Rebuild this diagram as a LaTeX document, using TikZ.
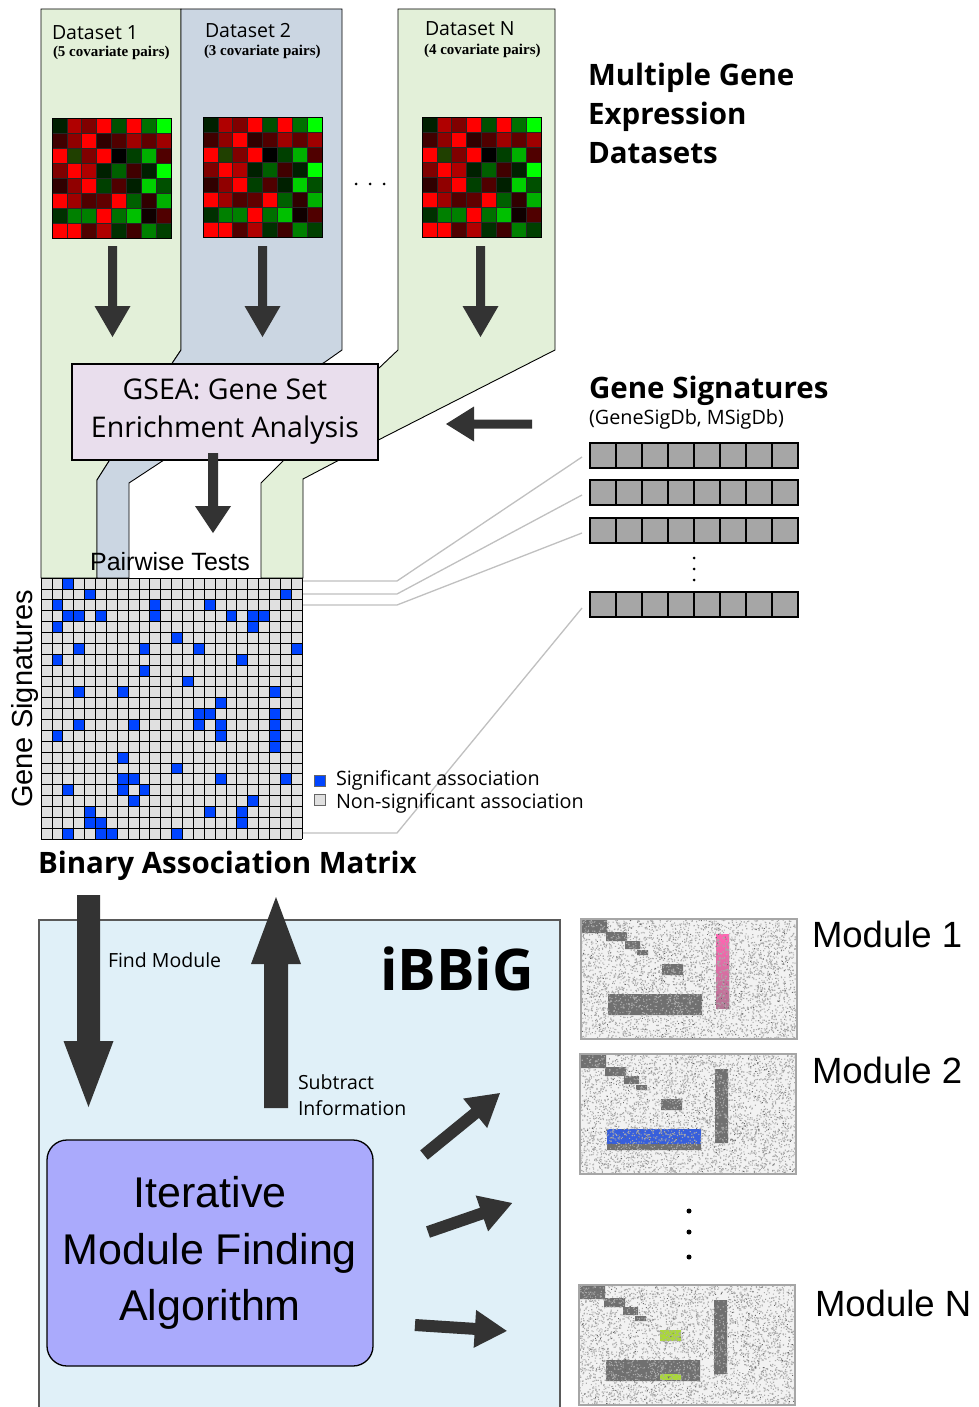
\documentclass[tikz,border=0pt]{standalone}
\usepackage{fontspec}
\setmainfont{Liberation Sans}
\newfontfamily\myr{Open Sans}
\newfontfamily\srf{Liberation Serif}
\definecolor{pgreen}{RGB}{227,240,217}
\definecolor{pblue}{RGB}{203,214,226}
\definecolor{gseac}{RGB}{233,222,237}
\definecolor{matgray}{RGB}{224,224,224}
\definecolor{sigblue}{RGB}{0,68,255}
\definecolor{arr}{RGB}{51,51,51}
\definecolor{sigbar}{RGB}{166,166,166}
\definecolor{ibbgc}{RGB}{224,240,248}
\definecolor{algoc}{RGB}{170,170,252}
\definecolor{connc}{RGB}{192,192,192}
\definecolor{modbg}{RGB}{242,242,242}
\definecolor{modblk}{RGB}{112,112,112}
\definecolor{moddot}{RGB}{170,170,170}
\definecolor{modpink}{RGB}{255,102,178}
\definecolor{modblue}{RGB}{55,95,220}
\definecolor{modgreen}{RGB}{170,215,60}
\tikzset{
 txt/.style={inner sep=0pt, outer sep=0pt, anchor=base west},
 myr/.style={font=\myr\fontsize{#1}{#1}\selectfont},
 myrb/.style={font=\myr\bfseries\fontsize{#1}{#1}\selectfont},
 ari/.style={font=\fontsize{#1}{#1}\selectfont},
 srfb/.style={font=\srf\bfseries\fontsize{#1}{#1}\selectfont},
 panel/.style={draw=black, line width=0.9pt},
 conn/.style={draw=connc, line width=1.3pt},
}
% block arrow: x y angle length halfshaft halfhead headlength
\newcommand\blkarrow[7]{\fill[arr,shift={(#1,#2)},rotate=#3] (0,#5) -- ({#4-#7},#5) -- ({#4-#7},#6) -- (#4,0) -- ({#4-#7},-#6) -- ({#4-#7},-#5) -- (0,-#5) -- cycle;}
\newcommand\heatmap[2]{%
\begin{scope}[shift={(#1,#2)}]
\foreach \hr/\hg [count=\hi from 0] in {0/32,176/0,128/0,255/0,0/80,255/0,0/112,0/255,
 64/0,144/0,255/0,48/0,80/0,160/0,96/0,160/0,
 255/0,32/64,128/0,255/0,0/0,0/64,0/176,80/0,
 128/0,255/0,176/0,0/32,0/96,64/0,0/32,0/255,
 48/0,144/0,255/0,0/64,80/0,0/32,0/208,0/80,
 255/0,160/0,80/0,96/0,255/0,0/96,48/0,0/176,
 0/48,0/128,0/128,255/0,0/112,0/192,16/0,80/0,
 255/0,255/0,80/0,176/0,0/48,64/0,0/128,0/64}{%
 \pgfmathtruncatemacro\hcx{mod(\hi,8)}%
 \pgfmathtruncatemacro\hcy{floor(\hi/8)}%
 \fill[fill={rgb,255:red,\hr;green,\hg;blue,0}] (\hcx*14.9,\hcy*14.9) rectangle ++(14.9,14.9);}
\foreach \k in {1,...,7}{\draw[black!85,line width=0.8pt] (\k*14.9,0) -- (\k*14.9,119.2) (0,\k*14.9) -- (119.2,\k*14.9);}
\draw[black,line width=1pt] (0,0) rectangle (119.2,119.2);
\end{scope}}
\newcommand\modimg[4]{%
\begin{scope}[shift={(#1,#2)}]
\pgfmathsetseed{#3}
\fill[modbg] (0,0) rectangle (216,120);
\fill[modblk] (1,1) rectangle (26,14) (25,13) rectangle (46,22) (44,22) rectangle (59,30) (56,31) rectangle (67,36) (81,45) rectangle (102,56) (27,75) rectangle (121,96) (135,15) rectangle (148,89);
#4
\foreach \j in {1,...,10}{\fill[moddot] \foreach \k in {1,...,380}{({rnd*215},{rnd*119}) rectangle ++(1.1,1.1)};}
\fill[black!60] \foreach \k in {1,...,400}{({rnd*215},{rnd*119}) rectangle ++(0.9,0.9)};
\draw[black!35, line width=1.3pt] (0,0) rectangle (216,120);
\end{scope}}
\begin{document}
\begin{tikzpicture}[x=1pt,y=-1pt]
\useasboundingbox (0,0) rectangle (979,1407);
\fill[white] (0,0) rectangle (979,1407);
% dataset panels
\draw[panel, fill=pgreen] (41,9) -- (181,9) -- (181,350) -- (173,362) -- (111,458) -- (97,480) -- (97,578) -- (41,578) -- cycle;
\draw[panel, fill=pblue] (181,9) -- (342,9) -- (342,350) -- (325,362) -- (167,458) -- (129,483) -- (129,578) -- (97,578) -- (97,480) -- (111,458) -- (173,362) -- (181,350) -- cycle;
\draw[panel, fill=pgreen] (398,9) -- (555,9) -- (555,350) -- (343,458) -- (303,479) -- (303,578) -- (261,578) -- (261,483) -- (286,458) -- (378,369) -- (398,350) -- cycle;
% dataset labels
\node[txt, myr=19.5] (d1) at (52,40) {Dataset 1};
\node[txt, srfb=15] (c1) at (53,57) {(5 covariate pairs)};
\node[txt, myr=19.5] (d2) at (205,38) {Dataset 2};
\node[txt, srfb=15] (c2) at (204,56) {(3 covariate pairs)};
\node[txt, myr=19.5] (dn) at (425,36) {Dataset N};
\node[txt, srfb=15] (cn) at (424,55) {(4 covariate pairs)};
% heatmaps
\heatmap{52}{119}
\heatmap{203}{118}
\heatmap{422}{118}
\foreach \xx in {356,370,384}{\fill[black] (\xx,184) circle (1.5);}
% dataset arrows
\blkarrow{112.5}{246}{-90}{91}{4.5}{18}{31}
\blkarrow{262.5}{246}{-90}{91}{4.5}{18}{31}
\blkarrow{480.5}{246}{-90}{91}{4.5}{18}{31}
% GSEA box
\node[draw, line width=1.3pt, fill=gseac, minimum width=306, minimum height=96, inner sep=0pt, align=center, font=\myr\fontsize{28.5}{38}\selectfont] (gsea) at (225,412) {GSEA: Gene Set\\Enrichment Analysis};
\blkarrow{213}{453}{-90}{80}{5}{18}{27}
\blkarrow{532}{424}{180}{86}{4.5}{17.5}{28}
% right titles
\node[txt, myrb=29.5] (t1) at (588,86) {Multiple Gene};
\node[txt, myrb=29.5] (t2) at (588,125) {Expression};
\node[txt, myrb=29.5] (t3) at (588,164) {Datasets};
\node[txt, myrb=29.5] (gs) at (589,398) {Gene Signatures};
\node[txt, myr=19.8] (gsdb) at (589,424) {(GeneSigDb, MSigDb)};
% signature bars
\foreach \yy in {443,480,518,592}{\foreach \k in {0,...,7}{\draw[fill=sigbar, draw=black, line width=1.5pt] (590+\k*26,\yy) rectangle ++(26,25);}}
\foreach \yy in {558,569,580}{\fill[black] (694,\yy) circle (1.5);}
% connector lines
\coordinate (s1) at (582,457);
\coordinate (s2) at (582,495);
\coordinate (s3) at (582,533);
\coordinate (s4) at (582,608);
\coordinate (r1) at (303,581);
\coordinate (r2) at (303,594);
\coordinate (r3) at (303,605);
\coordinate (r4) at (303,833);
\draw[conn] (s1) -- (397,581) -- (r1);
\draw[conn] (s2) -- (397,594) -- (r2);
\draw[conn] (s3) -- (397,605) -- (r3);
\draw[conn] (s4) -- (397,833) -- (r4);
% pairwise tests
\node[inner sep=0pt, anchor=base, ari=25] (pw) at (170,570) {Pairwise Tests};
% matrix
\begin{scope}[shift={(41,578)}]
\fill[matgray] (0,0) rectangle (261,261);
\foreach \row/\cols in {0/{2},1/{4,22},2/{1,10,15},3/{2,3,5,10,17,19,20},4/{1,19},5/{12},6/{3,9,14,23},7/{1,18},8/{9},9/{13},10/{3,7,21},11/{16},12/{14,15,21},13/{3,8,14,16,21},14/{1,16,21},15/{21},16/{7},17/{12},18/{7,8,16,22},19/{2,7,9},20/{8,19},21/{4,15,18},22/{4,5,18},23/{2,5,6,12}}{\foreach \c in \cols {\fill[sigblue] (\c*10.875,\row*10.875) rectangle ++(10.875,10.875);}}
\foreach \k in {0,...,24}{\draw[black, line width=0.7pt] (\k*10.875,0) -- (\k*10.875,261) (0,\k*10.875) -- (261,\k*10.875);}
\end{scope}
\node[inner sep=0pt, rotate=90, ari=29] (gsv) at (25,699) {Gene Signatures};
% legend
\draw[fill=sigblue, draw=black!60, line width=0.6pt] (314,775) rectangle (325,786);
\draw[fill=matgray, draw=black!60, line width=0.6pt] (314,794) rectangle (325,805);
\node[txt, myr=19.8] (l1) at (336,785) {Significant association};
\node[txt, myr=19.8] (l2) at (336,808) {Non-significant association};
\node[txt, myrb=29.5] (bam) at (38,873) {Binary Association Matrix};
% iBBiG box
\draw[fill=ibbgc, draw=black!65, line width=1.3pt] (39,920) rectangle (560,1415);
\blkarrow{88.5}{895}{-90}{212}{11.5}{25}{66}
\blkarrow{276}{1108}{90}{211}{12}{25}{67}
\node[txt, myr=19.5] (fm) at (108,967) {Find Module};
\node[txt, myr=19.5] (si1) at (298,1089) {Subtract};
\node[txt, myr=19.5] (si2) at (298,1115) {Information};
\node[txt, myrb=57.5] (ib) at (380,990) {iBBiG};
\node[draw, line width=1.3pt, fill=algoc, rounded corners=20pt, minimum width=326, minimum height=226, inner sep=0pt, align=center, font=\fontsize{43}{56.5}\selectfont] (algo) at (210,1253) {Iterative\\Module Finding\\Algorithm};
\blkarrow{424}{1155}{39.2}{98}{6}{19}{32}
\blkarrow{428}{1232}{19}{89}{6}{19}{32}
\blkarrow{415}{1325}{-3.7}{92}{6}{19}{32}
% modules
\modimg{581}{919}{11}{\shade[top color=modpink, bottom color=modpink!40!gray] (135,15) rectangle (148,89);}
\modimg{580}{1054}{23}{\fill[modblue] (27,75) rectangle (121,90);}
\modimg{579}{1285}{37}{\fill[modbg] (81,45) rectangle (102,56); \fill[modgreen] (81,45) rectangle (102,56); \fill[modgreen] (81,89) rectangle (102,95);}
\node[txt, ari=36.5] (m1) at (812,947) {Module 1};
\node[txt, ari=36.5] (m2) at (812,1083) {Module 2};
\node[txt, ari=36.5] (mn) at (815,1316) {Module N};
\foreach \yy in {1211,1232,1257}{\fill[black] (689,\yy) circle (2.5);}
\end{tikzpicture}
\end{document}
